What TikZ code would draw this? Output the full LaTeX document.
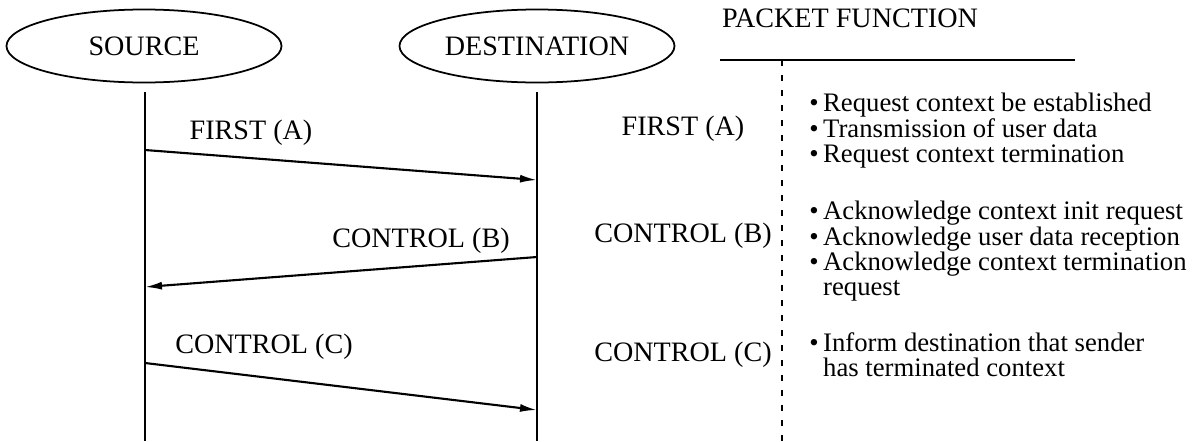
\documentclass[tikz,border=0pt]{standalone}
\usepackage{fontspec}
\setmainfont{Liberation Serif}
\usetikzlibrary{arrows.meta}
\usetikzlibrary{shapes.geometric}

\begin{document}
\begin{tikzpicture}[
    every node/.style={font=\fontsize{16}{14.2}\selectfont},
    party/.style={ellipse, draw, line width=1pt, minimum width=5.5cm, minimum height=1.46cm, inner sep=0pt},
    life/.style={line width=0.7pt},
    msg/.style={line width=1.2pt, -{Latex[length=0.34cm, width=0.16cm]}},
    funclist/.style={anchor=north west, align=left, inner sep=0pt, font=\fontsize{15.2}{14.4}\selectfont}
  ]
  \useasboundingbox (0,0) rectangle (24.08,8.82);

  % the two ends
  \node [party] (src) at (2.88,7.90) {SOURCE};
  \node [party] (dst) at (10.74,7.90) {DESTINATION};
  \coordinate (srctop) at (2.90,6.98);
  \coordinate (srcbot) at (2.90,0);
  \coordinate (dsttop) at (10.74,6.98);
  \coordinate (dstbot) at (10.74,0);
  \draw [life] (srctop) -- (srcbot);
  \draw [life] (dsttop) -- (dstbot);

  % packets
  \coordinate (a1) at (2.90,5.82);
  \coordinate (a2) at (10.74,5.22);
  \coordinate (b1) at (10.74,3.68);
  \coordinate (b2) at (2.90,3.08);
  \coordinate (c1) at (2.90,1.56);
  \coordinate (c2) at (10.74,0.62);
  \draw [msg] (a1) -- (a2);
  \draw [msg] (b1) -- (b2);
  \draw [msg] (c1) -- (c2);
  \node (labA) at (5.02,6.16) {FIRST (A)};
  \node (labB) at (8.42,4.00) {CONTROL (B)};
  \node (labC) at (5.28,1.88) {CONTROL (C)};

  % function table
  \node (head) at (17.0,8.46) {PACKET FUNCTION};
  \coordinate (headl) at (14.4,7.62);
  \coordinate (headr) at (21.5,7.62);
  \coordinate (sepbot) at (15.64,0);
  \draw [line width=1pt] (headl) -- (headr);
  \draw [line width=0.9pt, dash pattern=on 0.12cm off 0.18cm] (15.64,7.62) -- (sepbot);

  \node (midA) at (13.66,6.24) {FIRST (A)};
  \node (midB) at (13.66,4.10) {CONTROL (B)};
  \node (midC) at (13.66,1.72) {CONTROL (C)};

  \node [funclist] (funA) at (16.18,6.96) {\textbullet\,Request context be established\\
    \textbullet\,Transmission of user data\\
    \textbullet\,Request context termination};
  \node [funclist] (funB) at (16.18,4.80) {\textbullet\,Acknowledge context init request\\
    \textbullet\,Acknowledge user data reception\\
    \textbullet\,Acknowledge context termination\\
    \phantom{\textbullet\,}request};
  \node [funclist] (funC) at (16.18,2.18) {\textbullet\,Inform destination that sender\\
    \phantom{\textbullet\,}has terminated context};
\end{tikzpicture}
\end{document}
